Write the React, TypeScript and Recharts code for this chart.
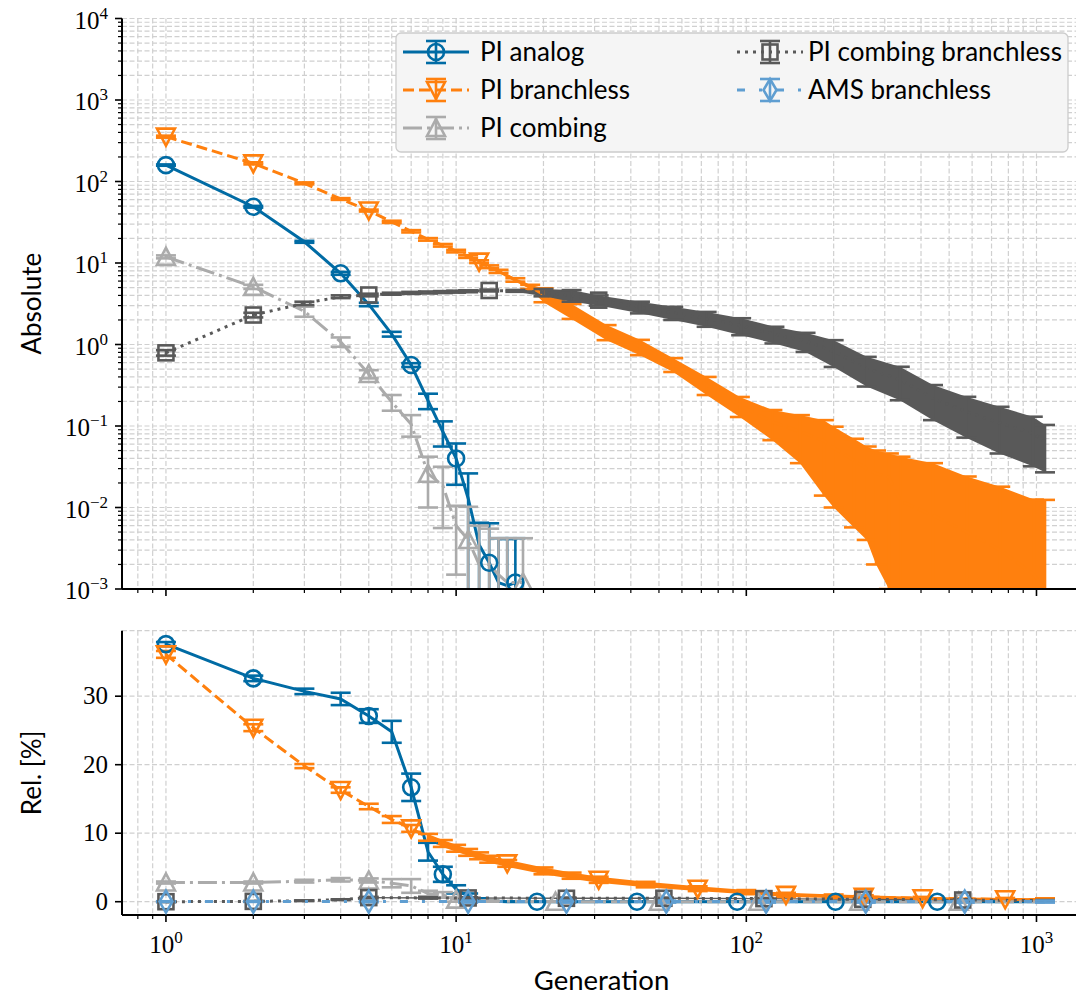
import React from 'react';
import { ComposedChart, Line, Area, ErrorBar, XAxis, YAxis, CartesianGrid, Legend } from 'recharts';

const SANS = 'Lato, "Noto Sans", sans-serif';
const SERIF = '"Liberation Serif", "DejaVu Serif", serif';

// ticks
const X_MAJOR = [1, 10, 100, 1000];
const X_MINOR = [0.8, 0.9, 2, 3, 4, 5, 6, 7, 8, 9, 20, 30, 40, 50, 60, 70, 80, 90, 200, 300, 400, 500, 600, 700, 800, 900];
const TOP_Y_MAJOR = [1e-3, 1e-2, 1e-1, 1, 10, 100, 1000, 10000];
const MINOR_MULT = [2, 3, 4, 5, 6, 7, 8, 9];
const BOT_Y_TICKS = [0, 10, 20, 30];

// ---- top panel (absolute) ----
const analogTopGen = [1, 2, 3, 4, 5, 6, 7, 8, 9, 10, 11, 12, 13, 14, 15, 16];
const analogTopVal = [159, 49, 18.2, 7.47, 3.1, 1.34, 0.56, 0.205, 0.085, 0.04, 0.013, 0.0035, 0.0021, 0.0012, 0.0011, 0.0012];
const analogTopErr = [3, 1.2, 0.5, 0.3, 0.15, 0.09, 0.03, 0.044, 0.029, 0.021, 0.0132, 0.003, 0.0043, 0.003, 0.003, 0.003];
const analogTopMarks = [1, 2, 4, 7, 10, 13, 16];

const branchTopGen = [1, 2, 3, 4, 5, 6, 7, 8, 9, 10, 11, 12, 13, 14, 16, 18, 20, 25, 33, 43, 56, 73, 95, 123, 153, 185, 200, 235, 260, 280, 310, 340, 440, 575, 750, 980, 1070];
const branchTopVal = [355, 167, 95, 61, 44, 32, 24.5, 19.5, 16.5, 14, 12, 10.4, 9.0, 7.9, 6.2, 5.1, 4.1, 2.6, 1.43, 0.94, 0.57, 0.32, 0.178, 0.112, 0.0855, 0.066, 0.054, 0.0377, 0.03, 0.026, 0.0235, 0.012, 0.008, 0.005, 0.003, 0.0015, 0.001];
const branchTopErr = [10, 5, 2.5, 1.5, 1.2, 1.0, 0.8, 0.7, 0.6, 0.5, 0.45, 0.4, 0.35, 0.35, 0.3, 0.3, 0.8, 0.54, 0.3, 0.2, 0.11, 0.08, 0.049, 0.045, 0.0505, 0.052, 0.044, 0.032, 0.026, 0.024, 0.0225, 0.03, 0.027, 0.019, 0.015, 0.011, 0.0114];
const branchTopMarks = [1, 2, 5, 12];

const combTopGen = [1, 2, 3, 4, 5, 6, 7, 8, 9, 10, 11, 12, 13, 14, 15, 17];
const combTopVal = [11.9, 5.1, 2.55, 1.08, 0.434, 0.197, 0.105, 0.026, 0.0186, 0.006, 0.004, 0.002, 0.002, 0.0015, 0.0012, 0.0012];
const combTopErr = [0.5, 0.3, 0.36, 0.14, 0.05, 0.043, 0.031, 0.016, 0.013, 0.0045, 0.0062, 0.004, 0.0035, 0.0027, 0.003, 0.003];
const combTopMarks = [1, 2, 5, 8, 11, 17];

const combBrTopGen = [1, 2, 3, 4, 5, 6, 7, 8, 9, 10, 11, 13, 16, 20, 25, 31, 43, 56, 73, 96, 125, 160, 200, 260, 338, 440, 573, 746, 971, 1070];
const combBrTopVal = [0.79, 2.3, 3.2, 3.86, 4.05, 4.2, 4.3, 4.35, 4.4, 4.45, 4.5, 4.6, 4.55, 4.35, 4.0, 3.5, 2.88, 2.45, 2.08, 1.7, 1.34, 1.1, 0.83, 0.505, 0.37, 0.218, 0.15, 0.109, 0.081, 0.065];
const combBrTopErr = [0.06, 0.15, 0.15, 0.15, 0.15, 0.12, 0.12, 0.12, 0.12, 0.12, 0.12, 0.12, 0.12, 0.45, 0.65, 0.5, 0.47, 0.45, 0.43, 0.4, 0.31, 0.29, 0.3, 0.2, 0.163, 0.1, 0.078, 0.063, 0.049, 0.038];
const combBrTopMarks = [1, 2, 5, 13, 31];

// ---- bottom panel (relative, %) ----
const analogRelGen = [1, 2, 3, 4, 5, 6, 7, 8, 9, 10, 11, 12, 13, 15, 19, 42, 93, 203, 455, 1070];
const analogRelVal = [37.6, 32.6, 30.7, 29.6, 27.1, 24.8, 16.7, 7.3, 4.0, 1.8, 0.8, 0.3, 0.1, 0, 0, 0, 0, 0, 0, 0];
const analogRelErr = [0.3, 0.4, 0.4, 0.9, 1.0, 1.6, 2.0, 1.3, 1.1, 0.6, 0.4, 0.2, 0.1, 0, 0, 0, 0, 0, 0, 0];
const analogRelMarks = [1, 2, 5, 7, 9, 19, 42, 93, 203, 455];

const branchRelGen = [1, 2, 3, 4, 5, 6, 7, 8, 9, 10, 11, 12, 13, 15, 20, 25, 31, 45, 68, 100, 137, 200, 254, 405, 780, 1070];
const branchRelVal = [36.1, 25.4, 19.8, 16.3, 13.9, 12.0, 10.7, 9.4, 8.5, 7.8, 7.2, 6.7, 6.2, 5.6, 4.5, 3.8, 3.2, 2.5, 1.9, 1.4, 1.0, 0.8, 0.7, 0.5, 0.35, 0.3];
const branchRelErr = [0.5, 0.5, 0.3, 0.4, 0.4, 0.5, 0.5, 0.5, 0.5, 0.5, 0.5, 0.5, 0.5, 0.5, 0.5, 0.45, 0.45, 0.4, 0.35, 0.3, 0.3, 0.25, 0.25, 0.2, 0.2, 0.2];
const branchRelMarks = [1, 2, 4, 7, 15, 31, 68, 137, 254, 405, 780];

const combRelGen = [1, 2, 3, 4, 5, 6, 7, 8, 9, 10, 11, 13, 22, 50, 110, 245, 540, 1070];
const combRelVal = [2.8, 2.8, 3.0, 3.2, 3.1, 2.7, 2.3, 1.2, 1.0, 0.3, 0.2, 0.1, 0, 0, 0, 0, 0, 0];
const combRelErr = [0.15, 0.15, 0.2, 0.25, 0.3, 0.6, 1.0, 0.4, 0.4, 0.3, 0.2, 0.1, 0, 0, 0, 0, 0, 0];
const combRelMarks = [1, 2, 5, 10, 22, 50, 110, 245, 540];

const combBrRelGen = [1, 2, 3, 4, 5, 8, 11, 24, 52, 115, 252, 557, 1070];
const combBrRelVal = [0.0, 0.05, 0.15, 0.3, 0.6, 0.55, 0.55, 0.5, 0.5, 0.45, 0.35, 0.25, 0.15];
const combBrRelErr = [0.05, 0.05, 0.05, 0.05, 0.1, 0.1, 0.1, 0.1, 0.1, 0.1, 0.1, 0.1, 0.1];
const combBrRelMarks = [1, 2, 5, 11, 24, 52, 115, 252, 557];

const amsRelGen = [1, 2, 5, 11, 24, 53, 117, 258, 566, 1070];
const amsRelVal = [0.02, 0.02, 0.02, 0.02, 0.02, 0.02, 0.02, 0.02, 0.02, 0.02];
const amsRelErr = [0.05, 0.05, 0.1, 0.15, 0.15, 0.15, 0.15, 0.15, 0.15, 0.15];
const amsRelMarks = [1, 2, 5, 11, 24, 53, 117, 258, 566];

const SERIES = [
  { name: 'PI analog', color: '#006BA4', dash: undefined, marker: 'circle' },
  { name: 'PI branchless', color: '#FF800E', dash: '11 5', marker: 'tdown' },
  { name: 'PI combing', color: '#ABABAB', dash: '19 5 3 5', marker: 'tup' },
  { name: 'PI combing branchless', color: '#595959', dash: '3 5', marker: 'square' },
  { name: 'AMS branchless', color: '#5F9ED1', dash: '8 14 3 14', marker: 'diamond' },
];

const X_DOMAIN = [0.7056, 1517];
const TOP_Y_DOMAIN = [1e-3, 1e4];
const BOT_Y_DOMAIN = [-1.94, 39.56];
const CHART_W = 1089;
const LW = 3;
const GRID = { stroke: '#d0d0d0', strokeDasharray: '5 2.5', strokeWidth: 1.2 };

function buildRows(gen: number[], val: number[], err: number[], log: boolean) {
  return gen.map((g, i) => {
    const v = val[i];
    const e = err[i];
    const lo = log ? Math.max(v - e, 1e-6) : v - e;
    return { gen: g, v, err: [v - lo, e], band: [lo, v + e] };
  });
}

function marker(shape: string, x: number, y: number, color: string) {
  const st = { fill: 'none', stroke: color, strokeWidth: 2.6 };
  switch (shape) {
    case 'circle':
      return <circle cx={x} cy={y} r={8} {...st} />;
    case 'tdown':
      return <path d={`M${x - 9},${y - 8} L${x + 9},${y - 8} L${x},${y + 9} Z`} {...st} />;
    case 'tup':
      return <path d={`M${x - 9},${y + 8} L${x + 9},${y + 8} L${x},${y - 9} Z`} {...st} />;
    case 'square':
      return <rect x={x - 7.5} y={y - 7.5} width={15} height={15} {...st} />;
    default:
      return <path d={`M${x},${y - 11} L${x + 6.5},${y} L${x},${y + 11} L${x - 6.5},${y} Z`} {...st} />;
  }
}

const isMajor = (v: number) => Math.abs(Math.log10(v) - Math.round(Math.log10(v))) < 1e-6;

function PowerText({ x, y, exp, anchor }: any) {
  const e = exp < 0 ? `\u2212${-exp}` : `${exp}`;
  return (
    <text x={x} y={y} textAnchor={anchor} fontFamily={SERIF} fontSize={25} fill="#000">
      10<tspan fontSize={17} dy={-10}>{e}</tspan>
    </text>
  );
}

function XTick(props: any) {
  const { x, y, payload, withLabels } = props;
  const major = isMajor(payload.value);
  return (
    <g>
      <line x1={x} x2={x} y1={y} y2={y + (major ? 7 : 4)} stroke="#000" strokeWidth={major ? 1.6 : 1.2} />
      {withLabels && major ? <PowerText x={x} y={y + 38} exp={Math.round(Math.log10(payload.value))} anchor="middle" /> : null}
    </g>
  );
}

function LogYTick(props: any) {
  const { x, y, payload } = props;
  const major = isMajor(payload.value);
  return (
    <g>
      <line x1={x - (major ? 7 : 4)} x2={x} y1={y} y2={y} stroke="#000" strokeWidth={major ? 1.6 : 1.2} />
      {major ? <PowerText x={x - 14} y={y + 10} exp={Math.round(Math.log10(payload.value))} anchor="end" /> : null}
    </g>
  );
}

function LinYTick(props: any) {
  const { x, y, payload } = props;
  return (
    <g>
      <line x1={x - 7} x2={x} y1={y} y2={y} stroke="#000" strokeWidth={1.6} />
      <text x={x - 14} y={y + 8} textAnchor="end" fontFamily={SERIF} fontSize={25} fill="#000">{payload.value}</text>
    </g>
  );
}

function YTitle(props: any) {
  const { viewBox, text } = props;
  const cx = viewBox.x + 41;
  const cy = viewBox.y + viewBox.height / 2;
  return (
    <text x={cx} y={cy} transform={`rotate(-90 ${cx} ${cy})`} textAnchor="middle" fontFamily={SANS} fontSize={26} fill="#000">{text}</text>
  );
}

function XTitle(props: any) {
  const { viewBox } = props;
  const cx = viewBox.x + viewBox.width / 2 - 4;
  return (
    <text x={cx} y={viewBox.y + 75} textAnchor="middle" fontFamily={SANS} fontSize={27.5} fill="#000">Generation</text>
  );
}

function LegendBox() {
  const W = 674;
  const H = 121;
  return (
    <svg width={W} height={H} style={{ display: 'block' }}>
      <rect x={1} y={1} width={W - 2} height={H - 2} rx={5} fill="#f5f5f5" stroke="#cccccc" strokeWidth={1.3} />
      {SERIES.map((s, i) => {
        const col = i < 3 ? 0 : 1;
        const row = i < 3 ? i : i - 3;
        const x0 = col === 0 ? 8 : 342;
        const tx = col === 0 ? 85 : 413;
        const cy = 20 + row * 38;
        const mid = x0 + 33;
        return (
          <g key={s.name}>
            <line x1={x0} x2={x0 + 66} y1={cy} y2={cy} stroke={s.color} strokeWidth={LW} strokeDasharray={s.dash} />
            <line x1={mid} x2={mid} y1={cy - 11} y2={cy + 11} stroke={s.color} strokeWidth={2.6} />
            <line x1={mid - 10} x2={mid + 10} y1={cy - 11} y2={cy - 11} stroke={s.color} strokeWidth={2.6} />
            <line x1={mid - 10} x2={mid + 10} y1={cy + 11} y2={cy + 11} stroke={s.color} strokeWidth={2.6} />
            {marker(s.marker, mid, cy, s.color)}
            <text x={tx} y={cy + 9} fontFamily={SANS} fontSize={26} fill="#000">{s.name}</text>
          </g>
        );
      })}
    </svg>
  );
}

// bandFrom: generation from which the dense error bars merge into a filled band
function seriesEls(idx: number, rows: any[], marks: number[], bandFrom: number | null, tag: string) {
  const s = SERIES[idx];
  const dot = (p: any) => {
    const { cx, cy, payload, index } = p;
    if (!marks.includes(payload.gen) || cx == null || cy == null || Number.isNaN(cy)) return <g key={`${tag}-d-${index}`} />;
    return <g key={`${tag}-d-${index}`}>{marker(s.marker, cx, cy, s.color)}</g>;
  };
  const out: any[] = [];
  if (bandFrom != null) {
    out.push(
      <Area key={`${tag}-band`} data={rows.filter((r) => r.gen >= bandFrom)} dataKey="band" type="linear" stroke="none"
        fill={s.color} fillOpacity={1} dot={false} activeDot={false} legendType="none" isAnimationActive={false} />
    );
  }
  out.push(
    <Line key={`${tag}-line`} data={rows} dataKey="v" type="linear" stroke={s.color} strokeWidth={LW}
      strokeDasharray={s.dash} dot={dot} activeDot={false} legendType="none" isAnimationActive={false}>
      <ErrorBar dataKey="err" direction="y" width={10} stroke={s.color} strokeWidth={2.6} isAnimationActive={false} />
    </Line>
  );
  return out;
}

const xTicks = [...X_MINOR, ...X_MAJOR].sort((a, b) => a - b);
const topYTicks = [
  ...TOP_Y_MAJOR,
  ...TOP_Y_MAJOR.slice(0, -1).flatMap((d) => MINOR_MULT.map((k) => Number((k * d).toPrecision(3)))),
].sort((a, b) => a - b);

export default function App() {
  const topRows = [
    buildRows(analogTopGen, analogTopVal, analogTopErr, true),
    buildRows(branchTopGen, branchTopVal, branchTopErr, true),
    buildRows(combTopGen, combTopVal, combTopErr, true),
    buildRows(combBrTopGen, combBrTopVal, combBrTopErr, true),
  ];
  const relRows = [
    buildRows(analogRelGen, analogRelVal, analogRelErr, false),
    buildRows(branchRelGen, branchRelVal, branchRelErr, false),
    buildRows(combRelGen, combRelVal, combRelErr, false),
    buildRows(combBrRelGen, combBrRelVal, combBrRelErr, false),
    buildRows(amsRelGen, amsRelVal, amsRelErr, false),
  ];

  const axisLine = { stroke: '#000', strokeWidth: 2 };

  return (
    <div style={{ position: 'absolute', left: 0, top: 0, width: 1076, height: 999, overflow: 'hidden', background: '#fff' }}>
      {/* top panel, data layer: its svg ends at the x axis so error bars below 1e-3 are cut there */}
      <div style={{ position: 'absolute', left: 0, top: 0 }}>
        <ComposedChart width={CHART_W} height={589} margin={{ top: 18.5, right: 0, bottom: 0, left: 122 }}>
          <CartesianGrid {...GRID} />
          <XAxis hide dataKey="gen" type="number" scale="log" domain={X_DOMAIN} allowDataOverflow ticks={xTicks} interval={0} />
          <YAxis hide type="number" scale="log" domain={TOP_Y_DOMAIN} allowDataOverflow ticks={topYTicks} interval={0} />
          {seriesEls(0, topRows[0], analogTopMarks, null, 't0')}
          {seriesEls(1, topRows[1], branchTopMarks, 13, 't1')}
          {seriesEls(2, topRows[2], combTopMarks, null, 't2')}
          {seriesEls(3, topRows[3], combBrTopMarks, 16, 't3')}
        </ComposedChart>
      </div>
      {/* top panel, axes + legend layer */}
      <div style={{ position: 'absolute', left: 0, top: 0 }}>
        <ComposedChart width={CHART_W} height={615} margin={{ top: 18.5, right: 0, bottom: 0, left: 0 }}>
          <XAxis dataKey="gen" type="number" scale="log" domain={X_DOMAIN} allowDataOverflow ticks={xTicks} interval={0}
            tickSize={0} tickMargin={0} tickLine={false} axisLine={axisLine} height={26}
            tick={(p: any) => <XTick {...p} />} />
          <YAxis type="number" scale="log" domain={TOP_Y_DOMAIN} allowDataOverflow ticks={topYTicks} interval={0}
            width={122} tickSize={0} tickMargin={0} tickLine={false} axisLine={axisLine}
            tick={(p: any) => <LogYTick {...p} />} label={<YTitle text="Absolute" />} />
          <Legend layout="horizontal" verticalAlign="middle" align="center"
            wrapperStyle={{ position: 'absolute', left: 395, top: 32, width: 674, height: 121 }}
            content={() => <LegendBox />} />
        </ComposedChart>
      </div>
      {/* bottom panel */}
      <div style={{ position: 'absolute', left: 0, top: 600 }}>
        <ComposedChart width={CHART_W} height={399} margin={{ top: 30.7, right: 0, bottom: 0, left: 0 }}>
          <CartesianGrid {...GRID} />
          <XAxis dataKey="gen" type="number" scale="log" domain={X_DOMAIN} allowDataOverflow ticks={xTicks} interval={0}
            tickSize={0} tickMargin={0} tickLine={false} axisLine={axisLine} height={84}
            tick={(p: any) => <XTick {...p} withLabels />} label={<XTitle />} />
          <YAxis type="number" domain={BOT_Y_DOMAIN} allowDataOverflow ticks={BOT_Y_TICKS} interval={0}
            width={122} tickSize={0} tickMargin={0} tickLine={false} axisLine={axisLine}
            tick={(p: any) => <LinYTick {...p} />} label={<YTitle text="Rel. [%]" />} />
          {seriesEls(0, relRows[0], analogRelMarks, null, 'b0')}
          {seriesEls(1, relRows[1], branchRelMarks, 8, 'b1')}
          {seriesEls(2, relRows[2], combRelMarks, null, 'b2')}
          {seriesEls(3, relRows[3], combBrRelMarks, 5, 'b3')}
          {seriesEls(4, relRows[4], amsRelMarks, 11, 'b4')}
        </ComposedChart>
      </div>
    </div>
  );
}
